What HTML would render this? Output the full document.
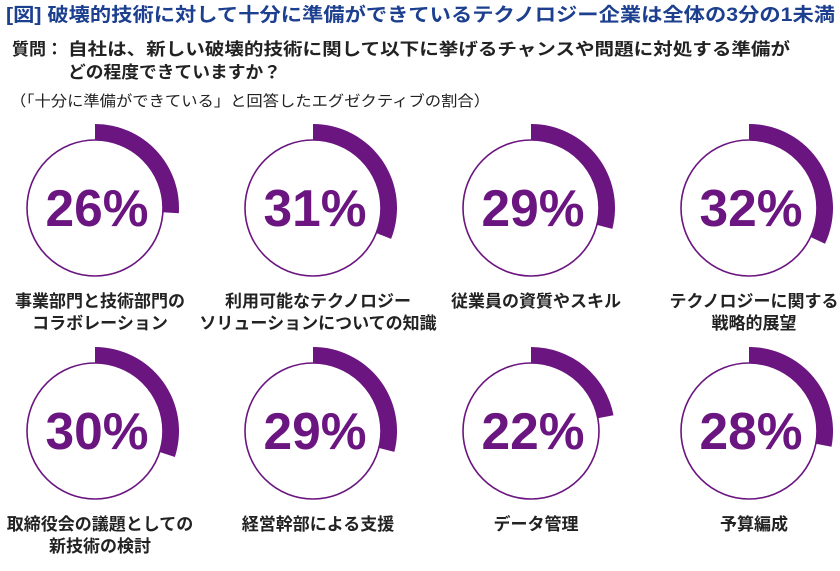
<!DOCTYPE html>
<html><head><meta charset="utf-8"><style>
body{margin:0;width:840px;height:571px;background:#fff;overflow:hidden;font-family:"Liberation Sans","Noto Sans CJK JP",sans-serif;}
svg{position:absolute;left:0;top:0}
</style></head><body>
<svg width="840" height="571" id="chart">
<text x="6" y="21" font-size="19" font-weight="bold" fill="#1d3f8f" textLength="829" lengthAdjust="spacingAndGlyphs">[図] 破壊的技術に対して十分に準備ができているテクノロジー企業は全体の3分の1未満</text>
<text x="12" y="55" font-size="17" font-weight="bold" fill="#222">質問：</text>
<text x="68" y="55" font-size="17" font-weight="bold" fill="#222" textLength="722" lengthAdjust="spacingAndGlyphs">自社は、新しい破壊的技術に関して以下に挙げるチャンスや問題に対処する準備が</text>
<text x="68" y="78" font-size="17" font-weight="bold" fill="#222" textLength="213" lengthAdjust="spacingAndGlyphs">どの程度できていますか？</text>
<text x="10" y="106" font-size="15" fill="#222" textLength="480" lengthAdjust="spacingAndGlyphs">（「十分に準備ができている」と回答したエグゼクティブの割合）</text>
<g id="donuts"></g>
</svg>
<script>
const categories1 = ["事業部門と技術部門の","利用可能なテクノロジー","従業員の資質やスキル","テクノロジーに関する","取締役会の議題としての","経営幹部による支援","データ管理","予算編成"];
const categories2 = ["コラボレーション","ソリューションについての知識","","戦略的展望","新技術の検討","","",""];
const values = [26,31,29,32,30,29,22,28];
const g = document.getElementById('donuts');
const NS = 'http://www.w3.org/2000/svg';
const cx0 = 95, dx = 218, cy0 = 208, dy = 223, rIn = 68, rOut = 84;
function mk(tag, attrs){const e=document.createElementNS(NS,tag);for(const k in attrs)e.setAttribute(k,attrs[k]);g.appendChild(e);return e;}
values.forEach((v,i)=>{
  const cx = cx0 + (i%4)*dx, cy = cy0 + Math.floor(i/4)*dy;
  const c = mk('circle',{cx:cx,cy:cy,r:rIn,fill:'none',stroke:'#6b1580','stroke-width':1.6});
  
  
  const a = v/100*2*Math.PI;
  const x1=cx+rOut*Math.sin(a), y1=cy-rOut*Math.cos(a), x2=cx+rIn*Math.sin(a), y2=cy-rIn*Math.cos(a);
  const large = v>50?1:0;
  const p = mk('path',{d:`M${cx},${cy-rOut} A${rOut},${rOut} 0 ${large} 1 ${x1},${y1} L${x2},${y2} A${rIn},${rIn} 0 ${large} 0 ${cx},${cy-rIn} Z`,fill:'#6b1580'});
  
  
  const t = mk('text',{x:cx+2,y:cy+18,'text-anchor':'middle','font-size':52,'font-weight':'bold',fill:'#6b1580',textLength:103,lengthAdjust:'spacingAndGlyphs'});
  t.textContent = v+'%';
  
  
  const l1 = mk('text',{x:cx+5,y:cy+99,'text-anchor':'middle','font-size':17,'font-weight':'bold',fill:'#222'});
  l1.textContent = categories1[i];
  
  
  if(categories2[i]){
    const l2 = mk('text',{x:cx+5,y:cy+121,'text-anchor':'middle','font-size':17,'font-weight':'bold',fill:'#222'});
    l2.textContent = categories2[i];
    
    
  }
});
</script>
</body></html>
